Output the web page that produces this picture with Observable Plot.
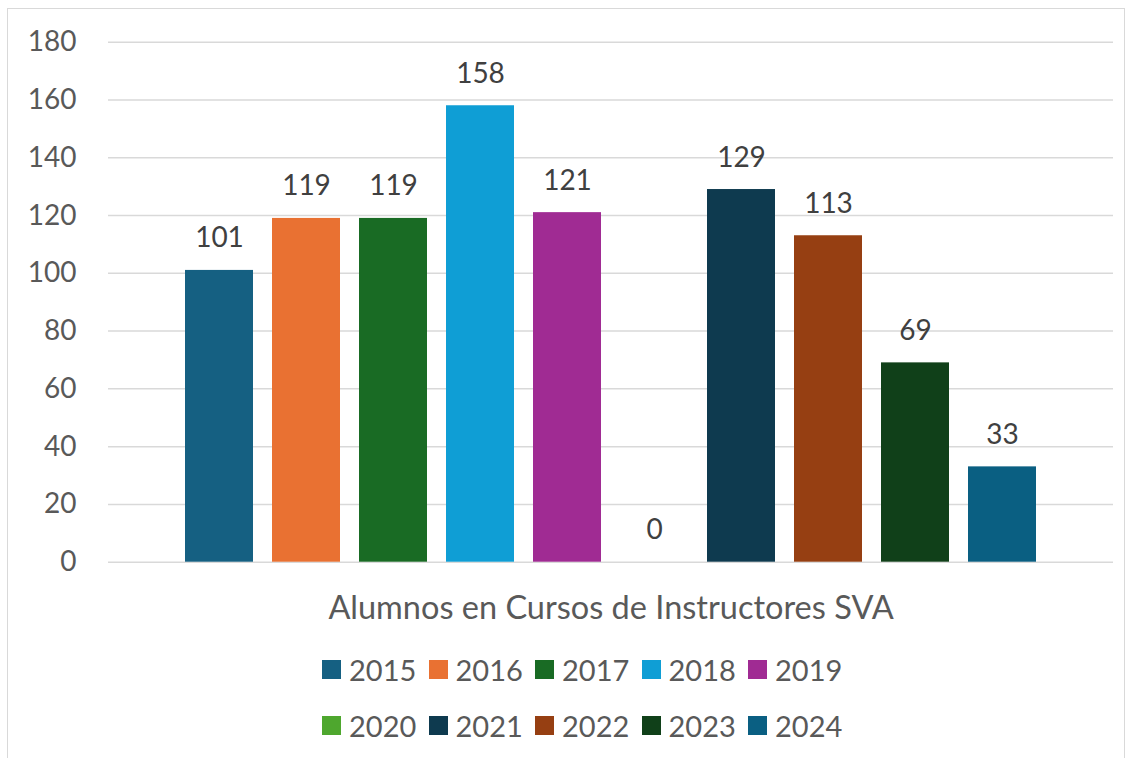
<!DOCTYPE html>
<html>
<head>
<meta charset="utf-8">
<script src="https://cdn.jsdelivr.net/npm/d3@7"></script>
<script src="https://cdn.jsdelivr.net/npm/@observablehq/plot@0.6"></script>
<style>
  html, body { margin: 0; padding: 0; background: #fff; }
  body { width: 1133px; height: 758px; position: relative; overflow: hidden; font-family: Lato, "Open Sans", sans-serif; }
  #frame { position: absolute; left: 7px; top: 8px; width: 1118px; height: 770px; border: 1.5px solid #d9d9d9; box-sizing: border-box; }
  #chart { position: absolute; left: 0; top: 0; }
  #legend { position: absolute; left: 322px; top: 641px; width: 560px; }
  .row { display: flex; height: 56px; align-items: center; }
  .item { display: flex; align-items: center; width: 106.5px; font-size: 29px; color: #595959; }
  .sw { width: 19px; height: 19px; margin-right: 8px; flex: none; }
</style>
</head>
<body>
<div id="frame"></div>
<div id="chart"></div>
<div id="legend"></div>
<script>
const years = ["2015","2016","2017","2018","2019","2020","2021","2022","2023","2024"];
const values = [101, 119, 119, 158, 121, 0, 129, 113, 69, 33];
const colors = ["#156082","#E97132","#196B24","#0F9ED5","#A02B93","#4EA72E","#0E3A4F","#963F12","#104019","#0A5F82"];
const yTicks = [0, 20, 40, 60, 80, 100, 120, 140, 160, 180];
const axisTitle = "Alumnos en Cursos de Instructores SVA";

const data = years.map((y, i) => ({year: y, value: values[i]}));

const chart = Plot.plot({
  width: 1133,
  height: 640,
  marginLeft: 108,
  marginRight: 20,
  marginTop: 41.7,
  marginBottom: 78.3,
  style: { fontFamily: "Lato, 'Open Sans', sans-serif", background: "transparent", overflow: "visible" },
  x: { domain: years, paddingInner: 0.214, paddingOuter: 0.858, axis: null },
  y: { domain: [0, 180], ticks: yTicks, axis: null },
  color: { domain: years, range: colors },
  marks: [
    Plot.ruleY(yTicks, { stroke: "#d9d9d9", strokeWidth: 1.5 }),
    Plot.barY(data, { x: "year", y: "value", fill: "year" }),
    Plot.text(data, { x: "year", y: "value", text: d => String(d.value), dy: -32, fontSize: 28, fill: "#404040", lineAnchor: "middle" }),
    Plot.axisY({ ticks: yTicks, tickSize: 0, tickPadding: 0, dx: -32, fontSize: 28, color: "#595959", label: null, textAnchor: "end" }),
    Plot.text([axisTitle], { frameAnchor: "bottom", dy: 46, fontSize: 32.5, fill: "#595959", lineAnchor: "middle" })
  ]
});
document.getElementById("chart").appendChild(chart);

const legend = document.getElementById("legend");
for (let r = 0; r < 2; r++) {
  const row = document.createElement("div");
  row.className = "row";
  for (let i = r * 5; i < r * 5 + 5; i++) {
    const item = document.createElement("div");
    item.className = "item";
    const sw = document.createElement("span");
    sw.className = "sw";
    sw.style.background = colors[i];
    const t = document.createElement("span");
    t.textContent = years[i];
    item.appendChild(sw);
    item.appendChild(t);
    row.appendChild(item);
  }
  legend.appendChild(row);
}
</script>
</body>
</html>
